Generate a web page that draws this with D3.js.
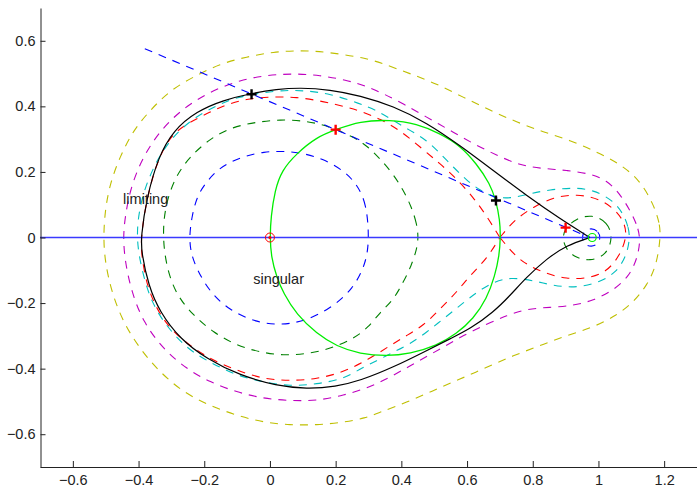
<!DOCTYPE html>
<html>
<head>
<meta charset="utf-8">
<script src="https://cdn.jsdelivr.net/npm/d3@7"></script>
<style>
  html, body { margin: 0; padding: 0; background: #fff; }
  svg { display: block; font-family: "Liberation Sans", Arial, Helvetica, sans-serif; }
</style>
</head>
<body>
<svg id="chart" width="697" height="487"></svg>
<script>
// Level curves of the potential (dashed), one array per contour level.
const contourBlue = [[0.302,0],[0.294,0.103],[0.264,0.164],[0.223,0.205],[0.162,0.240],[0.101,0.257],[0.041,0.264],[-0.020,0.261],[-0.071,0.250],[-0.122,0.230],[-0.162,0.205],[-0.198,0.164],[-0.223,0.123],[-0.238,0.063],[-0.246,0],[-0.240,-0.050],[-0.223,-0.096],[-0.183,-0.167],[-0.122,-0.223],[-0.041,-0.259],[0.030,-0.267],[0.101,-0.257],[0.183,-0.218],[0.254,-0.157],[0.294,-0.075]];
const contourBlueSmall = [[1.007,0],[0.998,0.021],[0.978,0.029],[0.957,0.021],[0.949,0],[0.957,-0.021],[0.978,-0.029],[0.998,-0.021]];
const contourGreen = [[0.452,0],[0.447,0.042],[0.431,0.093],[0.406,0.144],[0.375,0.194],[0.335,0.240],[0.300,0.276],[0.254,0.307],[0.183,0.338],[0.112,0.356],[0.030,0.360],[-0.041,0.352],[-0.112,0.338],[-0.183,0.302],[-0.244,0.246],[-0.289,0.185],[-0.320,0.094],[-0.327,0],[-0.314,-0.096],[-0.284,-0.177],[-0.233,-0.238],[-0.173,-0.289],[-0.101,-0.330],[-0.030,-0.350],[0.041,-0.360],[0.112,-0.355],[0.183,-0.340],[0.254,-0.309],[0.300,-0.274],[0.335,-0.228],[0.375,-0.192],[0.406,-0.136],[0.431,-0.085],[0.447,-0.035]];
const contourGreenSmall = [[1.044,0],[1.028,0.047],[0.980,0.071],[0.930,0.057],[0.898,0.027],[0.891,0],[0.898,-0.030],[0.925,-0.060],[0.974,-0.073],[1.025,-0.053]];
// The red level passes through the saddle point and splits into two lobes.
const contourRedLeft = [[0.700,0],[0.660,0.065],[0.619,0.123],[0.568,0.179],[0.518,0.225],[0.457,0.276],[0.396,0.327],[0.335,0.362],[0.280,0.384],[0.233,0.398],[0.162,0.415],[0.081,0.429],[0,0.429],[-0.071,0.423],[-0.142,0.403],[-0.213,0.367],[-0.294,0.325],[-0.340,0.243],[-0.375,0.122],[-0.393,0],[-0.391,-0.055],[-0.375,-0.146],[-0.345,-0.218],[-0.304,-0.279],[-0.244,-0.330],[-0.173,-0.376],[-0.101,-0.405],[-0.020,-0.432],[0.061,-0.437],[0.142,-0.432],[0.223,-0.411],[0.300,-0.372],[0.365,-0.330],[0.416,-0.299],[0.467,-0.269],[0.518,-0.218],[0.568,-0.167],[0.609,-0.116],[0.660,-0.065],[0.700,0]];
const contourRedRight = [[0.700,0],[0.745,0.055],[0.802,0.093],[0.862,0.123],[0.934,0.133],[1.005,0.118],[1.055,0.082],[1.081,0.042],[1.086,0],[1.065,-0.055],[1.025,-0.106],[0.964,-0.126],[0.903,-0.126],[0.842,-0.111],[0.785,-0.085],[0.745,-0.055],[0.700,0]];
const contourCyan = [[1.096,0],[1.091,0.032],[1.076,0.072],[1.045,0.113],[0.984,0.146],[0.923,0.152],[0.852,0.146],[0.791,0.134],[0.731,0.118],[0.680,0.123],[0.639,0.144],[0.599,0.174],[0.558,0.215],[0.518,0.256],[0.477,0.297],[0.426,0.327],[0.375,0.357],[0.325,0.388],[0.274,0.408],[0.183,0.439],[0.101,0.449],[0.020,0.449],[-0.101,0.429],[-0.162,0.403],[-0.244,0.358],[-0.315,0.287],[-0.365,0.195],[-0.396,0.102],[-0.408,0],[-0.391,-0.096],[-0.365,-0.187],[-0.325,-0.258],[-0.254,-0.340],[-0.173,-0.386],[-0.101,-0.421],[-0.020,-0.441],[0.061,-0.454],[0.142,-0.447],[0.223,-0.432],[0.274,-0.401],[0.325,-0.376],[0.375,-0.350],[0.426,-0.325],[0.477,-0.289],[0.528,-0.248],[0.578,-0.208],[0.629,-0.167],[0.680,-0.136],[0.731,-0.121],[0.802,-0.131],[0.862,-0.147],[0.934,-0.154],[1.005,-0.136],[1.055,-0.106],[1.086,-0.055]];
const contourMagenta = [[1.128,0],[1.116,0.042],[1.096,0.083],[1.065,0.134],[1.025,0.175],[0.974,0.195],[0.903,0.205],[0.832,0.210],[0.761,0.220],[0.690,0.251],[0.619,0.286],[0.548,0.327],[0.477,0.367],[0.406,0.408],[0.345,0.439],[0.290,0.463],[0.233,0.480],[0.152,0.495],[0.071,0.500],[-0.010,0.495],[-0.091,0.480],[-0.173,0.449],[-0.244,0.408],[-0.304,0.358],[-0.355,0.297],[-0.396,0.226],[-0.426,0.144],[-0.441,0.063],[-0.447,0],[-0.441,-0.075],[-0.421,-0.167],[-0.386,-0.258],[-0.325,-0.340],[-0.254,-0.401],[-0.183,-0.441],[-0.101,-0.472],[-0.020,-0.491],[0.061,-0.498],[0.142,-0.498],[0.223,-0.482],[0.304,-0.457],[0.375,-0.421],[0.447,-0.380],[0.518,-0.340],[0.588,-0.299],[0.660,-0.264],[0.721,-0.238],[0.781,-0.218],[0.852,-0.213],[0.923,-0.208],[0.984,-0.192],[1.045,-0.162],[1.096,-0.116],[1.121,-0.055]];
const contourYellow = [[1.189,0],[1.187,0.042],[1.167,0.103],[1.126,0.175],[1.065,0.225],[0.995,0.261],[0.913,0.297],[0.832,0.322],[0.751,0.352],[0.670,0.388],[0.588,0.428],[0.507,0.469],[0.426,0.500],[0.345,0.530],[0.290,0.548],[0.173,0.566],[0.091,0.571],[0.010,0.566],[-0.071,0.551],[-0.152,0.530],[-0.233,0.490],[-0.304,0.449],[-0.365,0.388],[-0.416,0.327],[-0.457,0.246],[-0.487,0.164],[-0.502,0.083],[-0.507,0],[-0.502,-0.075],[-0.482,-0.167],[-0.447,-0.258],[-0.396,-0.340],[-0.335,-0.411],[-0.264,-0.472],[-0.183,-0.513],[-0.101,-0.543],[-0.020,-0.564],[0.061,-0.572],[0.142,-0.572],[0.223,-0.564],[0.290,-0.551],[0.335,-0.533],[0.416,-0.503],[0.497,-0.467],[0.578,-0.432],[0.660,-0.396],[0.741,-0.360],[0.822,-0.330],[0.903,-0.299],[0.984,-0.274],[1.055,-0.238],[1.106,-0.198],[1.147,-0.147],[1.177,-0.085]];

// Limiting trajectory (black), from the cusp round the origin and back.
const limitingCurve = [[0.974,0],[0.883,0.057],[0.781,0.128],[0.680,0.204],[0.578,0.281],[0.477,0.350],[0.375,0.401],[0.274,0.433],[0.183,0.451],[0.091,0.457],[0.020,0.452],[-0.056,0.440],[-0.142,0.419],[-0.223,0.385],[-0.294,0.327],[-0.340,0.245],[-0.375,0.123],[-0.393,0],[-0.391,-0.045],[-0.370,-0.147],[-0.335,-0.228],[-0.274,-0.309],[-0.193,-0.370],[-0.091,-0.421],[0.020,-0.452],[0.112,-0.462],[0.200,-0.455],[0.274,-0.437],[0.375,-0.396],[0.477,-0.345],[0.548,-0.309],[0.609,-0.279],[0.680,-0.228],[0.731,-0.177],[0.781,-0.121],[0.842,-0.065],[0.903,-0.024],[0.974,0]];
// Singular curve (bright green) through the origin.
const singularCurve = [[0.702,0],[0.700,0.053],[0.688,0.113],[0.670,0.164],[0.629,0.225],[0.578,0.281],[0.518,0.317],[0.447,0.347],[0.365,0.359],[0.274,0.355],[0.200,0.329],[0.142,0.306],[0.081,0.256],[0.036,0.205],[0.015,0.144],[0.003,0.063],[0,0],[0.004,-0.060],[0.020,-0.120],[0.041,-0.170],[0.081,-0.235],[0.142,-0.293],[0.203,-0.332],[0.274,-0.355],[0.355,-0.362],[0.426,-0.355],[0.507,-0.330],[0.568,-0.294],[0.619,-0.248],[0.660,-0.187],[0.685,-0.116],[0.698,-0.055]];
// Straight descent path (blue dashed) ending at the second centre.
const descentPath = [[-0.381,0.576],[0.974,0]];

// Marked points.
const blackPlus = [[-0.056,0.437],[0.688,0.113]];
const redPlus = [[0.200,0.329],[0.900,0.030]];
const singularPoint = [0, 0];
const secondCentre = [0.981, 0];

// Annotations and ticks.
const labels = [
  { text: "limiting", x: -0.447, y: 0.102 },
  { text: "singular", x: -0.051, y: -0.143 }
];
const xTicks = [-0.6, -0.4, -0.2, 0, 0.2, 0.4, 0.6, 0.8, 1, 1.2];
const yTicks = [-0.6, -0.4, -0.2, 0, 0.2, 0.4, 0.6];
const xDomain = [-0.7, 1.3];
const yDomain = [-0.7, 0.7];

const svg = d3.select("#chart");
const x = d3.scaleLinear().domain(xDomain).range([40, 697]);
const y = d3.scaleLinear().domain(yDomain).range([467, 8]);

// B-spline smoothing through the sampled curve points
const closed = d3.line().x(d => x(d[0])).y(d => y(d[1])).curve(d3.curveBasisClosed);
const open = d3.line().x(d => x(d[0])).y(d => y(d[1])).curve(d3.curveBasis);
const straight = d3.line().x(d => x(d[0])).y(d => y(d[1]));

const dash = "8,7";
const contours = [
  { pts: contourBlue, color: "#0000ff", gen: closed },
  { pts: contourBlueSmall, color: "#0000ff", gen: closed },
  { pts: contourGreen, color: "#008000", gen: closed },
  { pts: contourGreenSmall, color: "#008000", gen: closed },
  { pts: contourRedLeft, color: "#ff0000", gen: open },
  { pts: contourRedRight, color: "#ff0000", gen: open },
  { pts: contourCyan, color: "#00bfbf", gen: closed },
  { pts: contourMagenta, color: "#bf00bf", gen: closed },
  { pts: contourYellow, color: "#bfbf00", gen: closed }
];

const plot = svg.append("g");
plot.selectAll("path.contour").data(contours).join("path")
  .attr("class", "contour")
  .attr("d", d => d.gen(d.pts))
  .attr("fill", "none")
  .attr("stroke", d => d.color)
  .attr("stroke-width", 1.1)
  .attr("stroke-dasharray", dash);

// Real axis
plot.append("path")
  .attr("d", straight([[xDomain[0], 0], [xDomain[1], 0]]))
  .attr("stroke", "#3a3aff").attr("stroke-width", 1.3).attr("fill", "none");

plot.append("path").attr("d", closed(singularCurve))
  .attr("fill", "none").attr("stroke", "#00ee00").attr("stroke-width", 1.3);

plot.append("path").attr("d", open(limitingCurve))
  .attr("fill", "none").attr("stroke", "#000").attr("stroke-width", 1.2);

plot.append("path").attr("d", straight(descentPath))
  .attr("fill", "none").attr("stroke", "#0000ff").attr("stroke-width", 1.1)
  .attr("stroke-dasharray", dash);

// Centres
plot.append("circle").attr("cx", x(singularPoint[0])).attr("cy", y(singularPoint[1])).attr("r", 4.5)
  .attr("fill", "none").attr("stroke", "#ff0000").attr("stroke-width", 1);
plot.append("circle").attr("cx", x(singularPoint[0])).attr("cy", y(singularPoint[1])).attr("r", 1.6)
  .attr("fill", "#ff0000");
plot.append("circle").attr("cx", x(secondCentre[0])).attr("cy", y(secondCentre[1])).attr("r", 4)
  .attr("fill", "none").attr("stroke", "#00ee00").attr("stroke-width", 1.2);

function plus(sel, pts, color) {
  sel.selectAll(null).data(pts).join("path")
    .attr("d", d => {
      const cx = x(d[0]), cy = y(d[1]), h = 5;
      return `M${cx - h},${cy}H${cx + h}M${cx},${cy - h}V${cy + h}`;
    })
    .attr("stroke", color).attr("stroke-width", 2.4).attr("fill", "none");
}
plus(plot, blackPlus, "#000");
plus(plot, redPlus, "#ff0000");

plot.selectAll("text.lbl").data(labels).join("text")
  .attr("class", "lbl")
  .attr("x", d => x(d.x)).attr("y", d => y(d.y))
  .attr("font-size", 14.5).attr("fill", "#222")
  .text(d => d.text);

// Axes (left and bottom only, ticks pointing inwards)
const fmt = d3.format("~g");
const xAxis = d3.axisBottom(x).tickValues(xTicks).tickFormat(fmt).tickSizeInner(-6).tickSizeOuter(0).tickPadding(8);
const yAxis = d3.axisLeft(y).tickValues(yTicks).tickFormat(fmt).tickSizeInner(-5).tickSizeOuter(0).tickPadding(5);

const gx = svg.append("g").attr("transform", "translate(0,467)").call(xAxis);
const gy = svg.append("g").attr("transform", "translate(40.5,0)").call(yAxis);
[gx, gy].forEach(g => {
  g.selectAll("text").attr("font-size", 14.5).attr("fill", "#222")
    .attr("font-family", "'Liberation Sans', Arial, Helvetica, sans-serif");
  g.selectAll("line, path").attr("stroke", "#222");
});
</script>
</body>
</html>
